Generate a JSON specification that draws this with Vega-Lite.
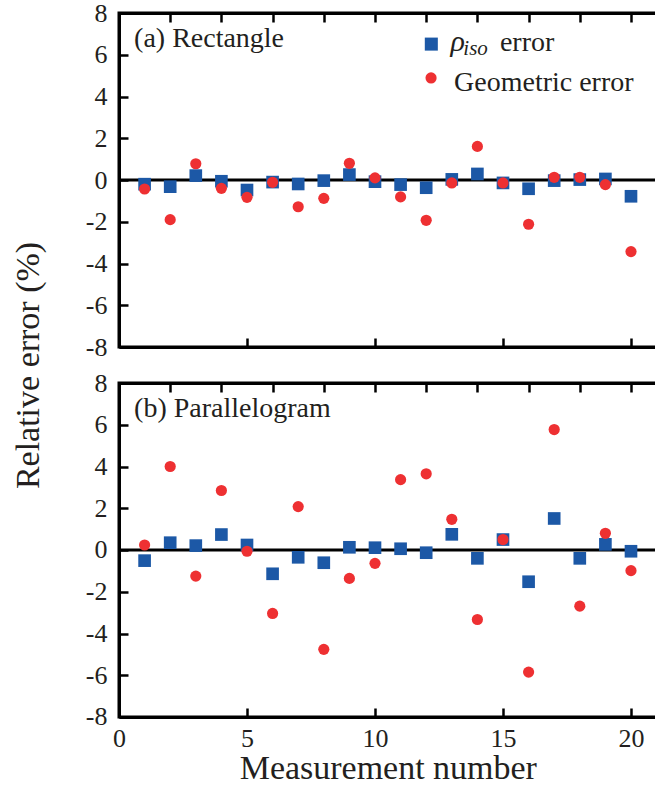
{
  "$schema": "https://vega.github.io/schema/vega-lite/v6.json",
  "background": "white",
  "padding": {"left": 9, "top": -2, "right": 0, "bottom": 0},
  "spacing": 36,
  "bounds": "flush",
  "data": {"values": [
    {"panel": "(a) Rectangle", "n": 1, "series": "rho", "value": -0.2},
    {"panel": "(a) Rectangle", "n": 2, "series": "rho", "value": -0.32},
    {"panel": "(a) Rectangle", "n": 3, "series": "rho", "value": 0.21},
    {"panel": "(a) Rectangle", "n": 4, "series": "rho", "value": -0.06},
    {"panel": "(a) Rectangle", "n": 5, "series": "rho", "value": -0.48},
    {"panel": "(a) Rectangle", "n": 6, "series": "rho", "value": -0.1},
    {"panel": "(a) Rectangle", "n": 7, "series": "rho", "value": -0.19},
    {"panel": "(a) Rectangle", "n": 8, "series": "rho", "value": -0.03},
    {"panel": "(a) Rectangle", "n": 9, "series": "rho", "value": 0.26},
    {"panel": "(a) Rectangle", "n": 10, "series": "rho", "value": -0.08},
    {"panel": "(a) Rectangle", "n": 11, "series": "rho", "value": -0.22},
    {"panel": "(a) Rectangle", "n": 12, "series": "rho", "value": -0.37},
    {"panel": "(a) Rectangle", "n": 13, "series": "rho", "value": 0.03},
    {"panel": "(a) Rectangle", "n": 14, "series": "rho", "value": 0.29},
    {"panel": "(a) Rectangle", "n": 15, "series": "rho", "value": -0.14},
    {"panel": "(a) Rectangle", "n": 16, "series": "rho", "value": -0.42},
    {"panel": "(a) Rectangle", "n": 17, "series": "rho", "value": -0.03},
    {"panel": "(a) Rectangle", "n": 18, "series": "rho", "value": 0.02},
    {"panel": "(a) Rectangle", "n": 19, "series": "rho", "value": 0.05},
    {"panel": "(a) Rectangle", "n": 20, "series": "rho", "value": -0.78},
    {"panel": "(a) Rectangle", "n": 1, "series": "geo", "value": -0.43},
    {"panel": "(a) Rectangle", "n": 2, "series": "geo", "value": -1.9},
    {"panel": "(a) Rectangle", "n": 3, "series": "geo", "value": 0.78},
    {"panel": "(a) Rectangle", "n": 4, "series": "geo", "value": -0.4},
    {"panel": "(a) Rectangle", "n": 5, "series": "geo", "value": -0.83},
    {"panel": "(a) Rectangle", "n": 6, "series": "geo", "value": -0.11},
    {"panel": "(a) Rectangle", "n": 7, "series": "geo", "value": -1.28},
    {"panel": "(a) Rectangle", "n": 8, "series": "geo", "value": -0.88},
    {"panel": "(a) Rectangle", "n": 9, "series": "geo", "value": 0.8},
    {"panel": "(a) Rectangle", "n": 10, "series": "geo", "value": 0.1},
    {"panel": "(a) Rectangle", "n": 11, "series": "geo", "value": -0.81},
    {"panel": "(a) Rectangle", "n": 12, "series": "geo", "value": -1.93},
    {"panel": "(a) Rectangle", "n": 13, "series": "geo", "value": -0.14},
    {"panel": "(a) Rectangle", "n": 14, "series": "geo", "value": 1.61},
    {"panel": "(a) Rectangle", "n": 15, "series": "geo", "value": -0.14},
    {"panel": "(a) Rectangle", "n": 16, "series": "geo", "value": -2.12},
    {"panel": "(a) Rectangle", "n": 17, "series": "geo", "value": 0.13},
    {"panel": "(a) Rectangle", "n": 18, "series": "geo", "value": 0.13},
    {"panel": "(a) Rectangle", "n": 19, "series": "geo", "value": -0.22},
    {"panel": "(a) Rectangle", "n": 20, "series": "geo", "value": -3.43},
    {"panel": "(b) Parallelogram", "n": 1, "series": "rho", "value": -0.51},
    {"panel": "(b) Parallelogram", "n": 2, "series": "rho", "value": 0.35},
    {"panel": "(b) Parallelogram", "n": 3, "series": "rho", "value": 0.21},
    {"panel": "(b) Parallelogram", "n": 4, "series": "rho", "value": 0.74},
    {"panel": "(b) Parallelogram", "n": 5, "series": "rho", "value": 0.24},
    {"panel": "(b) Parallelogram", "n": 6, "series": "rho", "value": -1.14},
    {"panel": "(b) Parallelogram", "n": 7, "series": "rho", "value": -0.35},
    {"panel": "(b) Parallelogram", "n": 8, "series": "rho", "value": -0.61},
    {"panel": "(b) Parallelogram", "n": 9, "series": "rho", "value": 0.13},
    {"panel": "(b) Parallelogram", "n": 10, "series": "rho", "value": 0.11},
    {"panel": "(b) Parallelogram", "n": 11, "series": "rho", "value": 0.06},
    {"panel": "(b) Parallelogram", "n": 12, "series": "rho", "value": -0.13},
    {"panel": "(b) Parallelogram", "n": 13, "series": "rho", "value": 0.75},
    {"panel": "(b) Parallelogram", "n": 14, "series": "rho", "value": -0.4},
    {"panel": "(b) Parallelogram", "n": 15, "series": "rho", "value": 0.5},
    {"panel": "(b) Parallelogram", "n": 16, "series": "rho", "value": -1.52},
    {"panel": "(b) Parallelogram", "n": 17, "series": "rho", "value": 1.51},
    {"panel": "(b) Parallelogram", "n": 18, "series": "rho", "value": -0.4},
    {"panel": "(b) Parallelogram", "n": 19, "series": "rho", "value": 0.27},
    {"panel": "(b) Parallelogram", "n": 20, "series": "rho", "value": -0.06},
    {"panel": "(b) Parallelogram", "n": 1, "series": "geo", "value": 0.24},
    {"panel": "(b) Parallelogram", "n": 2, "series": "geo", "value": 4.0},
    {"panel": "(b) Parallelogram", "n": 3, "series": "geo", "value": -1.25},
    {"panel": "(b) Parallelogram", "n": 4, "series": "geo", "value": 2.85},
    {"panel": "(b) Parallelogram", "n": 5, "series": "geo", "value": -0.06},
    {"panel": "(b) Parallelogram", "n": 6, "series": "geo", "value": -3.04},
    {"panel": "(b) Parallelogram", "n": 7, "series": "geo", "value": 2.08},
    {"panel": "(b) Parallelogram", "n": 8, "series": "geo", "value": -4.76},
    {"panel": "(b) Parallelogram", "n": 9, "series": "geo", "value": -1.36},
    {"panel": "(b) Parallelogram", "n": 10, "series": "geo", "value": -0.64},
    {"panel": "(b) Parallelogram", "n": 11, "series": "geo", "value": 3.37},
    {"panel": "(b) Parallelogram", "n": 12, "series": "geo", "value": 3.65},
    {"panel": "(b) Parallelogram", "n": 13, "series": "geo", "value": 1.47},
    {"panel": "(b) Parallelogram", "n": 14, "series": "geo", "value": -3.33},
    {"panel": "(b) Parallelogram", "n": 15, "series": "geo", "value": 0.5},
    {"panel": "(b) Parallelogram", "n": 16, "series": "geo", "value": -5.85},
    {"panel": "(b) Parallelogram", "n": 17, "series": "geo", "value": 5.77},
    {"panel": "(b) Parallelogram", "n": 18, "series": "geo", "value": -2.69},
    {"panel": "(b) Parallelogram", "n": 19, "series": "geo", "value": 0.8},
    {"panel": "(b) Parallelogram", "n": 20, "series": "geo", "value": -0.99}
  ]},
  "vconcat": [
    {
      "width": 537.6,
      "height": 334,
      "transform": [{"filter": "datum.panel == '(a) Rectangle'"}],
      "resolve": {"axis": {"x": "independent"}},
      "layer": [
        {
          "transform": [{"filter": "datum.n == 1 && datum.series == 'rho'"}],
          "mark": {"type": "rule", "color": "black", "strokeWidth": 3},
          "encoding": {"y": {"datum": 0, "type": "quantitative", "scale": {"domain": [-8, 8], "nice": false}}}
        },
        {
          "transform": [{"filter": "datum.series == 'rho'"}],
          "mark": {"type": "point", "shape": "square", "filled": true, "opacity": 1, "color": "#1c58a6", "size": 160},
          "encoding": {
            "x": {"field": "n", "type": "quantitative", "scale": {"domain": [0, 21], "nice": false, "zero": false},
                  "axis": {"orient": "bottom", "values": [0, 5, 10, 15, 20], "labels": false, "title": null}},
            "y": {"field": "value", "type": "quantitative", "scale": {"domain": [-8, 8], "nice": false},
                  "axis": {"orient": "left", "values": [-8, -6, -4, -2, 0, 2, 4, 6, 8], "title": "Relative error (%)", "titleY": 352, "titlePadding": 40}}
          }
        },
        {
          "transform": [{"filter": "datum.series == 'geo'"}],
          "mark": {"type": "point", "shape": "circle", "filled": true, "opacity": 1, "color": "#ee3032", "size": 125},
          "encoding": {
            "x": {"field": "n", "type": "quantitative", "scale": {"domain": [0, 21], "nice": false, "zero": false},
                  "axis": {"orient": "top", "values": [0, 2, 4, 6, 8, 10, 12, 14, 16, 18, 20], "labels": false, "title": null}},
            "y": {"field": "value", "type": "quantitative"}
          }
        },
        {
          "transform": [{"filter": "datum.n == 1 && datum.series == 'rho'"}],
          "mark": {"type": "text", "align": "left", "baseline": "alphabetic", "fontSize": 28, "color": "#231f20"},
          "encoding": {
            "x": {"datum": 0.59, "type": "quantitative", "axis": null},
            "y": {"datum": 6.38, "type": "quantitative"},
            "text": {"field": "panel"}
          }
        },
        {
          "transform": [{"filter": "datum.n == 1 && datum.series == 'rho'"}],
          "mark": {"type": "point", "shape": "square", "filled": true, "opacity": 1, "color": "#1c58a6", "size": 170},
          "encoding": {
            "x": {"datum": 12.2, "type": "quantitative", "axis": null},
            "y": {"datum": 6.51, "type": "quantitative"}
          }
        },
        {
          "transform": [{"filter": "datum.n == 1 && datum.series == 'rho'"}],
          "mark": {"type": "point", "shape": "circle", "filled": true, "opacity": 1, "color": "#ee3032", "size": 125},
          "encoding": {
            "x": {"datum": 12.19, "type": "quantitative", "axis": null},
            "y": {"datum": 4.89, "type": "quantitative"}
          }
        },
        {
          "transform": [{"filter": "datum.n == 1 && datum.series == 'rho'"}],
          "mark": {"type": "text", "align": "left", "baseline": "alphabetic", "fontSize": 30, "fontStyle": "italic", "color": "#231f20", "text": "ρ"},
          "encoding": {
            "x": {"datum": 12.95, "type": "quantitative", "axis": null},
            "y": {"datum": 6.18, "type": "quantitative"}
          }
        },
        {
          "transform": [{"filter": "datum.n == 1 && datum.series == 'rho'"}],
          "mark": {"type": "text", "align": "left", "baseline": "alphabetic", "fontSize": 21, "fontStyle": "italic", "color": "#231f20", "text": "iso"},
          "encoding": {
            "x": {"datum": 13.45, "type": "quantitative", "axis": null},
            "y": {"datum": 5.97, "type": "quantitative"}
          }
        },
        {
          "transform": [{"filter": "datum.n == 1 && datum.series == 'rho'"}],
          "mark": {"type": "text", "align": "left", "baseline": "alphabetic", "fontSize": 28, "color": "#231f20", "text": "error"},
          "encoding": {
            "x": {"datum": 14.88, "type": "quantitative", "axis": null},
            "y": {"datum": 6.18, "type": "quantitative"}
          }
        },
        {
          "transform": [{"filter": "datum.n == 1 && datum.series == 'rho'"}],
          "mark": {"type": "text", "align": "left", "baseline": "alphabetic", "fontSize": 28, "color": "#231f20", "text": "Geometric error"},
          "encoding": {
            "x": {"datum": 13.09, "type": "quantitative", "axis": null},
            "y": {"datum": 4.26, "type": "quantitative"}
          }
        }
      ]
    },
    {
      "width": 537.6,
      "height": 334,
      "transform": [{"filter": "datum.panel == '(b) Parallelogram'"}],
      "resolve": {"axis": {"x": "independent"}},
      "layer": [
        {
          "transform": [{"filter": "datum.n == 1 && datum.series == 'rho'"}],
          "mark": {"type": "rule", "color": "black", "strokeWidth": 3},
          "encoding": {"y": {"datum": 0, "type": "quantitative", "scale": {"domain": [-8, 8], "nice": false}}}
        },
        {
          "transform": [{"filter": "datum.series == 'rho'"}],
          "mark": {"type": "point", "shape": "square", "filled": true, "opacity": 1, "color": "#1c58a6", "size": 160},
          "encoding": {
            "x": {"field": "n", "type": "quantitative", "scale": {"domain": [0, 21], "nice": false, "zero": false},
                  "axis": {"orient": "bottom", "values": [0, 5, 10, 15, 20], "title": "Measurement number", "labelPadding": 18, "titlePadding": 0}},
            "y": {"field": "value", "type": "quantitative", "scale": {"domain": [-8, 8], "nice": false},
                  "axis": {"orient": "left", "values": [-8, -6, -4, -2, 0, 2, 4, 6, 8], "title": null}}
          }
        },
        {
          "transform": [{"filter": "datum.series == 'geo'"}],
          "mark": {"type": "point", "shape": "circle", "filled": true, "opacity": 1, "color": "#ee3032", "size": 125},
          "encoding": {
            "x": {"field": "n", "type": "quantitative", "scale": {"domain": [0, 21], "nice": false, "zero": false},
                  "axis": {"orient": "top", "values": [0, 2, 4, 6, 8, 10, 12, 14, 16, 18, 20], "labels": false, "title": null}},
            "y": {"field": "value", "type": "quantitative"}
          }
        },
        {
          "transform": [{"filter": "datum.n == 1 && datum.series == 'rho'"}],
          "mark": {"type": "text", "align": "left", "baseline": "alphabetic", "fontSize": 28, "color": "#231f20"},
          "encoding": {
            "x": {"datum": 0.59, "type": "quantitative", "axis": null},
            "y": {"datum": 6.38, "type": "quantitative"},
            "text": {"field": "panel"}
          }
        }
      ]
    }
  ],
  "config": {
    "font": "Liberation Serif, Times New Roman, serif",
    "text": {"font": "Liberation Serif, Times New Roman, serif"},
    "view": {"stroke": "black", "strokeWidth": 3},
    "axis": {
      "grid": false,
      "domainColor": "black",
      "domainWidth": 3,
      "tickColor": "black",
      "tickWidth": 2.5,
      "tickSize": -9,
      "labelPadding": 21,
      "labelExpr": "replace(datum.label, '−', '-')",
      "labelFont": "Liberation Serif, Times New Roman, serif",
      "labelFontSize": 26,
      "labelColor": "#231f20",
      "labelFlush": false,
      "labelOverlap": false,
      "titleFont": "Liberation Serif, Times New Roman, serif",
      "titleFontSize": 34,
      "titleFontWeight": "normal",
      "titleColor": "#231f20"
    }
  }
}
